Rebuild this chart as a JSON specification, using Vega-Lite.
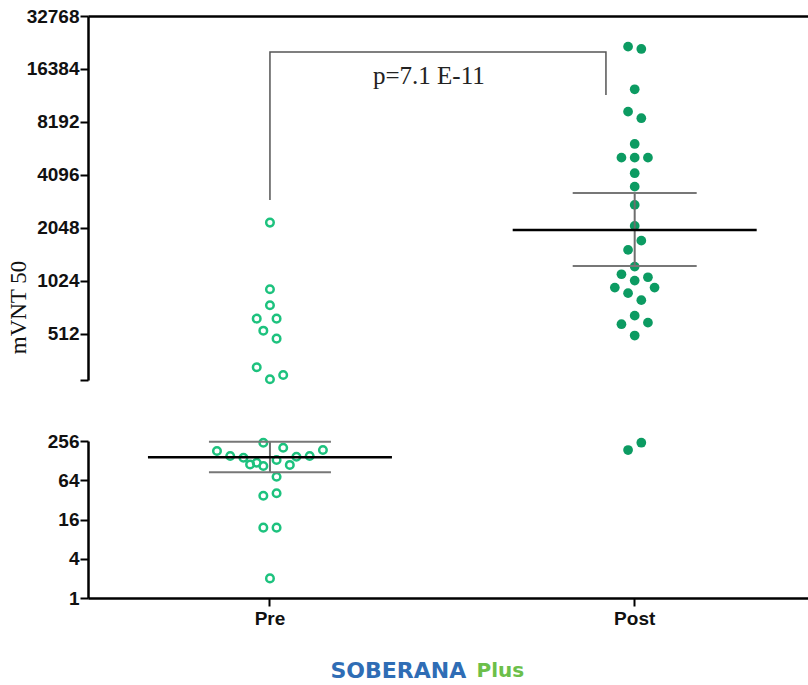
{
  "$schema": "https://vega.github.io/schema/vega-lite/v6.json",
  "padding": {"left": 7, "top": 7, "right": 0, "bottom": 0},
  "bounds": "flush",
  "spacing": 61,
  "config": {
    "view": {"stroke": null},
    "axis": {"domainColor": "#000", "domainWidth": 2.5, "tickColor": "#000", "tickWidth": 2, "tickSize": 8, "labelFont": "Liberation Sans", "labelFontWeight": "bold", "labelColor": "#111", "grid": false, "labelOverlap": false},
    "axisY": {"labelFontSize": 19, "labelPadding": 1},
    "axisX": {"labelFontSize": 19, "labelPadding": 3, "labelAngle": 0}
  },
  "datasets": {
    "titers": [
      {"group": "Pre", "v": 2195, "off": 0},
      {"group": "Pre", "v": 918, "off": 0},
      {"group": "Pre", "v": 745, "off": 0},
      {"group": "Pre", "v": 625, "off": -2},
      {"group": "Pre", "v": 625, "off": 1},
      {"group": "Pre", "v": 534, "off": -1},
      {"group": "Pre", "v": 481, "off": 1},
      {"group": "Pre", "v": 331, "off": -2},
      {"group": "Pre", "v": 283, "off": 0},
      {"group": "Pre", "v": 299, "off": 2},
      {"group": "Pre", "v": 241, "off": -1},
      {"group": "Pre", "v": 180, "off": -8},
      {"group": "Pre", "v": 202, "off": 2},
      {"group": "Pre", "v": 186, "off": 8},
      {"group": "Pre", "v": 151, "off": -6},
      {"group": "Pre", "v": 142, "off": -4},
      {"group": "Pre", "v": 151, "off": 6},
      {"group": "Pre", "v": 147, "off": 4},
      {"group": "Pre", "v": 131, "off": 1},
      {"group": "Pre", "v": 112, "off": -3},
      {"group": "Pre", "v": 119, "off": -2},
      {"group": "Pre", "v": 106, "off": -1},
      {"group": "Pre", "v": 110, "off": 3},
      {"group": "Pre", "v": 72.6, "off": 1},
      {"group": "Pre", "v": 37, "off": -1},
      {"group": "Pre", "v": 40.4, "off": 1},
      {"group": "Pre", "v": 12, "off": -1},
      {"group": "Pre", "v": 12, "off": 1},
      {"group": "Pre", "v": 2, "off": 0},
      {"group": "Post", "v": 21937, "off": -1},
      {"group": "Post", "v": 21280, "off": 1},
      {"group": "Post", "v": 12564, "off": 0},
      {"group": "Post", "v": 9376, "off": -1},
      {"group": "Post", "v": 8600, "off": 1},
      {"group": "Post", "v": 6144, "off": 0},
      {"group": "Post", "v": 5137, "off": -2},
      {"group": "Post", "v": 5137, "off": 0},
      {"group": "Post", "v": 5137, "off": 2},
      {"group": "Post", "v": 4188, "off": 0},
      {"group": "Post", "v": 3515, "off": 0},
      {"group": "Post", "v": 2767, "off": 0},
      {"group": "Post", "v": 2102, "off": 0},
      {"group": "Post", "v": 1734, "off": 1},
      {"group": "Post", "v": 1536, "off": -1},
      {"group": "Post", "v": 1235, "off": 0},
      {"group": "Post", "v": 1117, "off": -2},
      {"group": "Post", "v": 1028, "off": 0},
      {"group": "Post", "v": 1074, "off": 2},
      {"group": "Post", "v": 938, "off": -3},
      {"group": "Post", "v": 938, "off": 3},
      {"group": "Post", "v": 872, "off": -1},
      {"group": "Post", "v": 796, "off": 1},
      {"group": "Post", "v": 650, "off": 0},
      {"group": "Post", "v": 581, "off": -2},
      {"group": "Post", "v": 593, "off": 2},
      {"group": "Post", "v": 501, "off": 0},
      {"group": "Post", "v": 241, "off": 1},
      {"group": "Post", "v": 186, "off": -1}
    ],
    "stats": [
      {"group": "Pre", "kind": "mean", "v": 144},
      {"group": "Pre", "kind": "cap", "v": 85},
      {"group": "Pre", "kind": "cap", "v": 250},
      {"group": "Post", "kind": "mean", "v": 1995},
      {"group": "Post", "kind": "cap", "v": 1246},
      {"group": "Post", "kind": "cap", "v": 3237}
    ],
    "errs": [
      {"group": "Pre", "v": 85, "v2": 250},
      {"group": "Post", "v": 1246, "v2": 3237}
    ],
    "bracket": [
      {"group": "Pre", "off": 0, "v": 2955, "o": 1},
      {"group": "Pre", "off": 0, "v": 20480, "o": 2},
      {"group": "Post", "off": -4.34, "v": 20480, "o": 3},
      {"group": "Post", "off": -4.34, "v": 11660, "o": 4}
    ],
    "annot": [
      {"group": "Pre", "off": 24, "v": 14970, "label": "p=7.1 E-11"}
    ]
  },
  "vconcat": [
    {
      "width": 720,
      "height": 364,
      "encoding": {
        "x": {"field": "group", "type": "nominal", "scale": {"type": "band", "domain": ["Pre", "Post"], "paddingInner": 0.5, "paddingOuter": 0.237, "align": 0.525},
          "axis": {"orient": "top", "ticks": false, "labels": false, "domain": true, "title": "Plus", "titleFont": "DejaVu Sans", "titleFontWeight": "bold", "titleFontSize": 20, "titleColor": "#6cbf4a", "titleAlign": "left", "titleBaseline": "middle", "titleAngle": 0, "titleX": 388, "titleY": 654}},
        "y": {"field": "v", "type": "quantitative", "scale": {"type": "log", "base": 2, "domain": [280, 32768], "nice": false},
          "axis": {"values": [280, 512, 1024, 2048, 4096, 8192, 16384, 32768], "labelExpr": "datum.value < 300 ? '' : format(datum.value, 'd')", "title": "mVNT 50", "titleFont": "Liberation Serif", "titleFontWeight": "normal", "titleFontSize": 23, "titleColor": "#111", "titleAngle": -90, "titleAlign": "center", "titleBaseline": "middle", "titleX": -70, "titleY": 291}}
      },
      "layer": [
        {
          "data": {"name": "titers"},
          "transform": [{"filter": "datum.group == 'Post' && datum.v > 270"}],
          "mark": {"type": "point", "filled": true, "color": "#0c9b62", "size": 95, "opacity": 1},
          "encoding": {"xOffset": {"field": "off", "type": "quantitative", "scale": {"domain": [-13.77, 13.77], "nice": false, "zero": false}}}
        },
        {
          "data": {"name": "titers"},
          "transform": [{"filter": "datum.group == 'Pre' && datum.v > 270"}],
          "mark": {"type": "point", "filled": false, "color": "#1dc27e", "strokeWidth": 2.5, "size": 57, "opacity": 1},
          "encoding": {"xOffset": {"field": "off", "type": "quantitative", "scale": {"domain": [-13.77, 13.77], "nice": false, "zero": false}}}
        },
        {
          "data": {"name": "errs"},
          "transform": [{"filter": "datum.group == 'Post'"}],
          "mark": {"type": "rule", "color": "#6e6e6e", "strokeWidth": 2},
          "encoding": {"y2": {"field": "v2"}}
        },
        {
          "data": {"name": "stats"},
          "transform": [{"filter": "datum.group == 'Post' && datum.kind == 'cap'"}],
          "mark": {"type": "tick", "color": "#777777", "size": 124, "thickness": 2, "opacity": 1},
          "encoding": {}
        },
        {
          "data": {"name": "stats"},
          "transform": [{"filter": "datum.group == 'Post' && datum.kind == 'mean'"}],
          "mark": {"type": "tick", "color": "#000000", "size": 244, "thickness": 2.5, "opacity": 1},
          "encoding": {}
        },
        {
          "data": {"name": "bracket"},
          "mark": {"type": "line", "color": "#555555", "strokeWidth": 1.5},
          "encoding": {"xOffset": {"field": "off", "type": "quantitative", "scale": {"domain": [-13.77, 13.77], "nice": false, "zero": false}}, "order": {"field": "o", "type": "quantitative"}}
        },
        {
          "data": {"name": "annot"},
          "mark": {"type": "text", "font": "Liberation Serif", "fontSize": 25, "color": "#222", "align": "center", "baseline": "middle"},
          "encoding": {"xOffset": {"field": "off", "type": "quantitative", "scale": {"domain": [-13.77, 13.77], "nice": false, "zero": false}}, "text": {"field": "label"}}
        }
      ]
    },
    {
      "width": 720,
      "height": 157,
      "encoding": {
        "x": {"field": "group", "type": "nominal", "scale": {"type": "band", "domain": ["Pre", "Post"], "paddingInner": 0.5, "paddingOuter": 0.237, "align": 0.525},
          "axis": {"orient": "bottom", "title": "SOBERANA", "titleFont": "DejaVu Sans", "titleFontWeight": "bold", "titleFontSize": 22, "titleColor": "#2f6db5", "titleAlign": "left", "titleBaseline": "middle", "titleAngle": 0, "titleX": 242, "titleY": 72}},
        "y": {"field": "v", "type": "quantitative", "scale": {"type": "log", "base": 2, "domain": [1, 256], "nice": false},
          "axis": {"values": [1, 4, 16, 64, 256], "labelExpr": "format(datum.value, 'd')", "title": null}}
      },
      "layer": [
        {
          "data": {"name": "titers"},
          "transform": [{"filter": "datum.group == 'Post' && datum.v <= 270"}],
          "mark": {"type": "point", "filled": true, "color": "#0c9b62", "size": 95, "opacity": 1},
          "encoding": {"xOffset": {"field": "off", "type": "quantitative", "scale": {"domain": [-13.77, 13.77], "nice": false, "zero": false}}}
        },
        {
          "data": {"name": "titers"},
          "transform": [{"filter": "datum.group == 'Pre' && datum.v <= 270"}],
          "mark": {"type": "point", "filled": false, "color": "#1dc27e", "strokeWidth": 2.5, "size": 57, "opacity": 1},
          "encoding": {"xOffset": {"field": "off", "type": "quantitative", "scale": {"domain": [-13.77, 13.77], "nice": false, "zero": false}}}
        },
        {
          "data": {"name": "errs"},
          "transform": [{"filter": "datum.group == 'Pre'"}],
          "mark": {"type": "rule", "color": "#6e6e6e", "strokeWidth": 2},
          "encoding": {"y2": {"field": "v2"}}
        },
        {
          "data": {"name": "stats"},
          "transform": [{"filter": "datum.group == 'Pre' && datum.kind == 'cap'"}],
          "mark": {"type": "tick", "color": "#777777", "size": 122, "thickness": 2, "opacity": 1},
          "encoding": {}
        },
        {
          "data": {"name": "stats"},
          "transform": [{"filter": "datum.group == 'Pre' && datum.kind == 'mean'"}],
          "mark": {"type": "tick", "color": "#000000", "size": 244, "thickness": 2.5, "opacity": 1},
          "encoding": {}
        }
      ]
    }
  ]
}
